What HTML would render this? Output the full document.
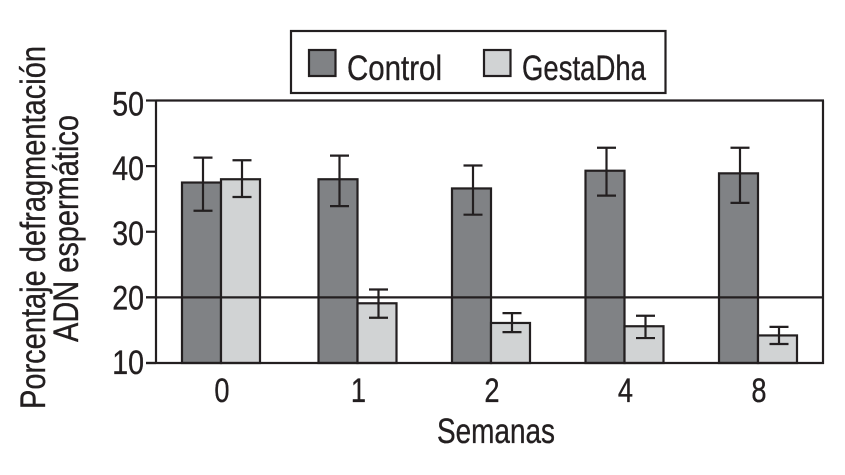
<!DOCTYPE html>
<html lang="es">
<head>
<meta charset="utf-8">
<title>Porcentaje de fragmentación ADN espermático</title>
<style>
html,body{margin:0;padding:0;background:#fff;}
svg{display:block;}
text{font-family:"Liberation Sans",sans-serif;fill:#231f20;stroke:#231f20;stroke-width:0.35px;}
</style>
</head>
<body>
<svg id="chart" xmlns="http://www.w3.org/2000/svg" width="845" height="475" viewBox="0 0 845 475">
  <rect x="291" y="31" width="374.5" height="62" fill="#fff" stroke="#231f20" stroke-width="2.2"/>
  <rect x="309" y="50" width="26.5" height="26" fill="#808285" stroke="#231f20" stroke-width="2.2"/>
  <text x="347" y="80" font-size="35" textLength="95" lengthAdjust="spacingAndGlyphs">Control</text>
  <rect x="484" y="50" width="26.5" height="26" fill="#d1d3d4" stroke="#231f20" stroke-width="2.2"/>
  <text x="522" y="80" font-size="35" textLength="124" lengthAdjust="spacingAndGlyphs">GestaDha</text>
  <text transform="translate(45,409) rotate(-90)" font-size="35" textLength="363" lengthAdjust="spacingAndGlyphs">Porcentaje defragmentación</text>
  <text transform="translate(78,342) rotate(-90)" font-size="35" textLength="227" lengthAdjust="spacingAndGlyphs">ADN espermático</text>
  <text x="437" y="443" font-size="35" textLength="118" lengthAdjust="spacingAndGlyphs">Semanas</text>
  <g id="bars"></g>
  <g id="axes"></g>
  <g id="errors"></g>
  <g id="labels"></g>
</svg>
<script>
const categories = ['0', '1', '2', '4', '8'];
const controlValues = [37.5, 38.0, 36.6, 39.3, 38.9];
const gestaValues = [38.0, 19.1, 16.1, 15.6, 14.2];
const controlHigh = [41.3, 41.6, 40.1, 42.8, 42.8];
const controlLow = [33.2, 33.9, 32.6, 35.5, 34.4];
const gestaHigh = [40.9, 21.2, 17.6, 17.2, 15.5];
const gestaLow = [35.3, 16.9, 14.7, 13.8, 12.9];
const yTicks = [10, 20, 30, 40, 50];
const referenceValue = 20;

const NS = 'http://www.w3.org/2000/svg';
const INK = '#231f20';
const plotLeft = 156, plotRight = 823, tickLeft = 146;
const barWidth = 39, capHalf = 9.5;

function yScale(v) { return 363 - (v - 10) * 6.5625; }
function xCenter(i) { return i === 0 ? 221 : 224 + i * 133.5; }
function make(tag, parent) {
  const n = document.createElementNS(NS, tag);
  parent.appendChild(n);
  return n;
}
function setAll(n, attrs) {
  Object.keys(attrs).forEach(function (k) { n.setAttribute(k, attrs[k]); });
}

const barsG = document.getElementById('bars');
const axesG = document.getElementById('axes');
const errorsG = document.getElementById('errors');
const labelsG = document.getElementById('labels');

function drawBar(x, value, fill, name) {
  const el = make('rect', barsG);
  
  
  setAll(el, { x: x, y: yScale(value), width: barWidth, height: 363 - yScale(value), fill: fill, stroke: INK, 'stroke-width': 2.2 });
}
function drawLine(parent, x1, y1, x2, y2, name) {
  const el = make('line', parent);
  
  
  setAll(el, { x1: x1, y1: y1, x2: x2, y2: y2, stroke: INK, 'stroke-width': 2.2 });
}
function drawError(x, high, low, name) {
  drawLine(errorsG, x, yScale(high), x, yScale(low), name + '-stem');
  drawLine(errorsG, x - capHalf, yScale(high), x + capHalf, yScale(high), name + '-cap-high');
  drawLine(errorsG, x - capHalf, yScale(low), x + capHalf, yScale(low), name + '-cap-low');
}

categories.forEach(function (c, i) {
  const cx = xCenter(i);
  drawBar(cx - barWidth, controlValues[i], '#808285', 'bar-control-week-' + c);
  drawBar(cx, gestaValues[i], '#d1d3d4', 'bar-gestadha-week-' + c);
  drawError(cx - barWidth / 2 + 1.5, controlHigh[i], controlLow[i], 'error-control-week-' + c);
  drawError(cx + barWidth / 2 + 1.5, gestaHigh[i], gestaLow[i], 'error-gestadha-week-' + c);

  const label = make('text', labelsG);
  
  
  setAll(label, { transform: 'translate(' + (cx + 1) + ',402) scale(0.8,1)', 'text-anchor': 'middle', 'font-size': 34 });
  label.textContent = c;
});

drawLine(axesG, plotLeft, yScale(50), plotRight + 1, yScale(50), 'plot-top-border');
drawLine(axesG, plotRight, yScale(50), plotRight, 364, 'plot-right-border');
drawLine(axesG, plotLeft, yScale(50), plotLeft, 364, 'y-axis-line');
drawLine(axesG, tickLeft, 363, plotRight + 1, 363, 'x-axis-line');
drawLine(axesG, tickLeft, yScale(referenceValue), plotRight, yScale(referenceValue), 'reference-line-20');

yTicks.forEach(function (t) {
  drawLine(axesG, tickLeft, yScale(t), plotLeft, yScale(t), 'y-tick-' + t);
  const label = make('text', labelsG);
  
  
  const baseline = yScale(t) + 11 + (t - 10) * 0.1;
  setAll(label, { transform: 'translate(144,' + baseline + ') scale(0.84,1)', 'text-anchor': 'end', 'font-size': 34 });
  label.textContent = String(t);
});
</script>
</body>
</html>
